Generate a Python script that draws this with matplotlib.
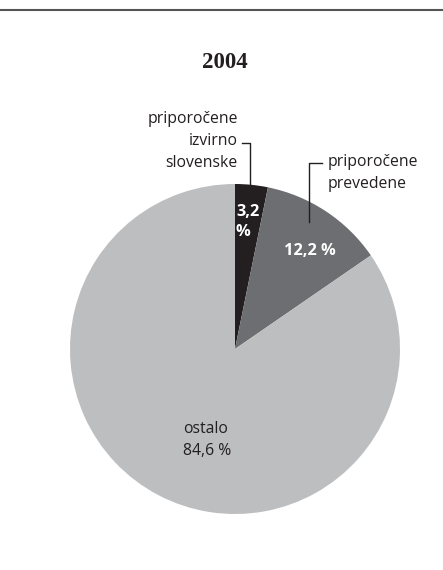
import matplotlib
matplotlib.use("Agg")
import matplotlib.pyplot as plt

# Data
title = "2004"
categories = ["priporočene\nizvirno\nslovenske", "priporočene\nprevedene", "ostalo"]
values = [3.2, 12.2, 84.6]
value_labels = ["3,2\n%", "12,2 %", "84,6 %"]
colors = ["#231f20", "#6d6e71", "#bcbec0"]

W, H = 443, 570
fig = plt.figure(figsize=(W / 100, H / 100), dpi=100)
ax = fig.add_axes([0, 0, 1, 1])
ax.axis("off")

# top rule
ax.plot([0, W], [H - 10, H - 10], color="#555555", lw=1.5)

cx, cy, r = 235, H - 349, 165
ax.pie(values, colors=colors, startangle=90, counterclock=False,
       center=(cx, cy), radius=r, wedgeprops=dict(linewidth=0))
ax.set_xlim(0, W)
ax.set_ylim(0, H)
ax.set_aspect("equal")

ax.text(225, H - 62, title, ha="center", va="center",
        family="Liberation Serif", fontweight="bold", fontsize=16.5, color="#231f20")

font = "Open Sans"
fs = 11.3
ls = 1.5
# black slice
ax.text(238, H - 141, categories[0], ha="right", va="center", family=font,
        fontsize=fs, color="#231f20", linespacing=ls)
ax.plot([242, 250, 250], [H - 143, H - 143, H - 186], color="#231f20", lw=1)
ax.text(236, H - 222, value_labels[0], ha="left", va="center", family=font,
        fontsize=11.8, fontweight="bold", color="white", linespacing=1.3)

# dark grey slice
ax.text(328, H - 173, categories[1], ha="left", va="center", family=font,
        fontsize=fs, color="#231f20", linespacing=ls)
ax.plot([322, 309, 309], [H - 163, H - 163, H - 222], color="#231f20", lw=1)
ax.text(310, H - 251, value_labels[1], ha="center", va="center", family=font,
        fontsize=11.8, fontweight="bold", color="white")

# light grey slice
ax.text(183, H - 440, categories[2] + "\n" + value_labels[2], ha="left", va="center",
        family=font, fontsize=fs, color="#231f20", linespacing=ls)

fig.savefig("out.png", dpi=100)
